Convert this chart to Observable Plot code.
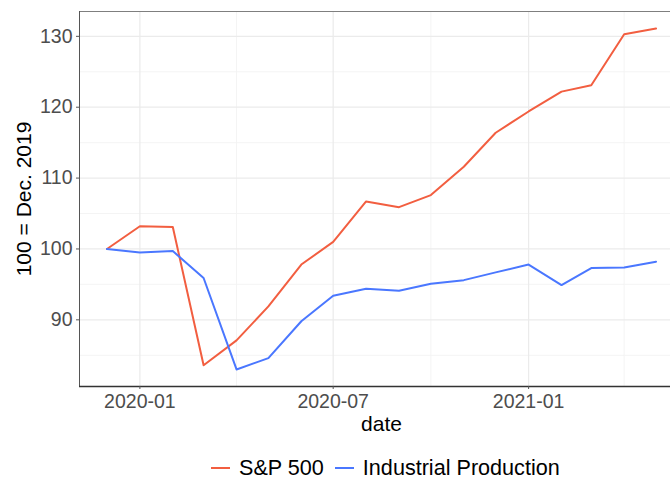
<!DOCTYPE html>
<html><head><meta charset="utf-8">
<script src="https://cdn.jsdelivr.net/npm/d3@7"></script>
<script src="https://cdn.jsdelivr.net/npm/@observablehq/plot@0.6"></script>
<style>
html,body{margin:0;padding:0;background:#fff;overflow:hidden;width:670px;height:479px}
#chart{position:relative;width:670px;height:479px;font-family:"Liberation Sans",Arial,sans-serif;overflow:hidden}
#chart svg{display:block}
#legend{position:absolute;left:211px;top:457px;width:420px;height:22px;display:flex;align-items:center;font-size:21.6px;line-height:22px;color:#000;white-space:nowrap}
#legend .key{display:inline-block;flex:none;width:19px;height:2px;margin-right:9px}
#legend .lab{display:inline-block;flex:none;margin-right:11px}
</style></head><body><div id="chart"></div>
<script>
const dates = ["2019-12-01","2020-01-01","2020-02-01","2020-03-01","2020-04-01","2020-05-01","2020-06-01","2020-07-01","2020-08-01","2020-09-01","2020-10-01","2020-11-01","2020-12-01","2021-01-01","2021-02-01","2021-03-01","2021-04-01","2021-05-01"];
const sp500 = [100, 103.2, 103.1, 83.6, 87.1, 91.9, 97.8, 101.0, 106.7, 105.9, 107.6, 111.6, 116.4, 119.4, 122.2, 123.1, 130.3, 131.1];
const indProd = [100, 99.5, 99.7, 95.9, 83.0, 84.6, 89.8, 93.4, 94.4, 94.1, 95.1, 95.6, 96.7, 97.8, 94.9, 97.3, 97.4, 98.2];
const seriesNames = ["S&P 500", "Industrial Production"];
const seriesColors = ["#F25E40", "#4A77FF"];
const yTicks = [90, 100, 110, 120, 130];
const yMinor = [85, 95, 105, 115, 125];
const xTicks = ["2020-01-01", "2020-07-01", "2021-01-01"];
const xMinor = ["2020-04-01", "2020-10-01", "2021-04-01"];
const yTitle = "100 = Dec. 2019";
const xTitle = "date";

const parse = d3.utcParse("%Y-%m-%d");
const rows = [];
dates.forEach((d, i) => {
  rows.push({date: parse(d), value: sp500[i], series: seriesNames[0]});
  rows.push({date: parse(d), value: indProd[i], series: seriesNames[1]});
});
const xExt = d3.extent(rows, r => r.date);
const xPad = (xExt[1] - xExt[0]) * 0.05;
const xDomain = [new Date(+xExt[0] - xPad), new Date(+xExt[1] + xPad)];
const yExt = d3.extent(rows, r => r.value);
const yPad = (yExt[1] - yExt[0]) * 0.05;
const yDomain = [yExt[0] - yPad, yExt[1] + yPad];

const plot = Plot.plot({
  width: 670, height: 440,
  marginLeft: 79, marginRight: -13, marginTop: 11, marginBottom: 54,
  style: {fontFamily: '"Liberation Sans", Arial, sans-serif', background: "white", overflow: "hidden"},
  x: {type: "utc", domain: xDomain},
  y: {domain: yDomain},
  color: {domain: seriesNames, range: seriesColors},
  marks: [
    Plot.gridY(yMinor, {stroke: "#F3F3F3", strokeOpacity: 1, strokeWidth: 0.9}),
    Plot.gridX(xMinor.map(parse), {stroke: "#F3F3F3", strokeOpacity: 1, strokeWidth: 0.9}),
    Plot.gridY(yTicks, {stroke: "#EBEBEB", strokeOpacity: 1, strokeWidth: 1.2}),
    Plot.gridX(xTicks.map(parse), {stroke: "#EBEBEB", strokeOpacity: 1, strokeWidth: 1.2}),
    Plot.frame({stroke: "#7f7f7f", strokeWidth: 1}),
    Plot.ruleX([xDomain[0]], {stroke: "#555", strokeWidth: 1}),
    Plot.ruleY([yDomain[0]], {stroke: "#333", strokeWidth: 1.3}),
    Plot.axisY(yTicks, {tickSize: 3, tickPadding: 4, fontSize: 19.5, fill: "#4D4D4D", stroke: "#555", label: null}),
    Plot.axisX(xTicks.map(parse), {tickSize: 3, tickPadding: 5, fontSize: 19.5, fill: "#4D4D4D", stroke: "#555", label: null, tickFormat: d3.utcFormat("%Y-%m")}),
    Plot.text([yTitle], {text: d => d, frameAnchor: "left", rotate: -90, dx: -55, fontSize: 21, fill: "black", textAnchor: "middle", lineAnchor: "middle"}),
    Plot.text([xTitle], {text: d => d, frameAnchor: "bottom", dy: 38, fontSize: 21, fill: "black", textAnchor: "middle", lineAnchor: "middle"}),
    Plot.line(rows, {x: "date", y: "value", z: "series", stroke: "series", strokeWidth: 2})
  ]
});
const chart = document.getElementById("chart");
chart.appendChild(plot);

const legend = document.createElement("div");
legend.id = "legend";
seriesNames.forEach((name, i) => {
  const k = document.createElement("span");
  k.className = "key";
  k.style.background = seriesColors[i];
  const t = document.createElement("span");
  t.className = "lab";
  t.textContent = name;
  legend.appendChild(k);
  legend.appendChild(t);
});
chart.appendChild(legend);
</script>
</body></html>
